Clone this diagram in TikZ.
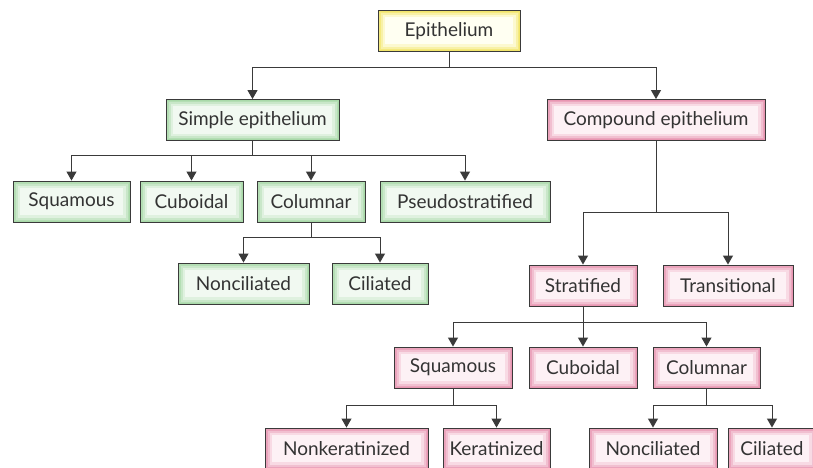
\documentclass[tikz,border=0pt]{standalone}
\usepackage{fontspec}
\setmainfont{Lato}
\usetikzlibrary{arrows.meta}
\definecolor{edge}{HTML}{3A3A3A}
\definecolor{yglow}{HTML}{F2E56A}
\definecolor{yfill}{HTML}{FFFFF2}
\definecolor{gglow}{HTML}{A9D9A9}
\definecolor{gfill}{HTML}{F1F9F1}
\definecolor{pglow}{HTML}{E896B2}
\definecolor{pfill}{HTML}{FDF1F5}
\tikzset{
  x=1pt, y=-1pt,
  box/.style 2 args={draw=edge, line width=0.9pt, fill=#2, minimum height=41pt, inner sep=0pt,
    font=\fontsize{19}{22}\selectfont, text=black!80,
    path picture={
      \draw[#1!25!#2, line width=14pt] (path picture bounding box.south west) rectangle (path picture bounding box.north east);
      \draw[#1!55!#2, line width=9pt] (path picture bounding box.south west) rectangle (path picture bounding box.north east);
      \draw[#1!85!#2, line width=5pt] (path picture bounding box.south west) rectangle (path picture bounding box.north east);
      \draw[#1, line width=2.5pt] (path picture bounding box.south west) rectangle (path picture bounding box.north east);
    }},
  ybox/.style={box={yglow}{yfill}},
  gbox/.style={box={gglow}{gfill}},
  pbox/.style={box={pglow}{pfill}},
  conn/.style={draw=edge, line width=1pt},
  arr/.style={conn, -{Triangle[width=10pt,length=9pt]}}
}
\begin{document}
\begin{tikzpicture}
\useasboundingbox (0,0) rectangle (813,468);
% nodes
\node[ybox, minimum width=142pt] (epi) at (449,31) {Epithelium};
\node[gbox, minimum width=173pt] (sim) at (252.5,120) {Simple epithelium};
\node[pbox, minimum width=218pt] (com) at (656,120) {Compound epithelium};
\node[gbox, minimum width=117pt] (sq1) at (71.5,201.5) {Squamous};
\node[gbox, minimum width=103pt] (cu1) at (191.5,201.5) {Cuboidal};
\node[gbox, minimum width=108pt] (co1) at (311,201.5) {Columnar};
\node[gbox, minimum width=170pt] (ps) at (465,201.5) {Pseudostratified};
\node[gbox, minimum width=131pt] (nc1) at (243.5,283.5) {Nonciliated};
\node[gbox, minimum width=96pt] (ci1) at (380,283.5) {Ciliated};
\node[pbox, minimum width=108pt] (st) at (583,285.5) {Stratified};
\node[pbox, minimum width=130pt] (tr) at (728,285.5) {Transitional};
\node[pbox, minimum width=118pt] (sq2) at (453,367.5) {Squamous};
\node[pbox, minimum width=108pt] (cu2) at (583,367.5) {Cuboidal};
\node[pbox, minimum width=107pt] (co2) at (706.5,367.5) {Columnar};
\node[pbox, minimum width=163pt] (nk) at (346.5,448.5) {Nonkeratinized};
\node[pbox, minimum width=107pt] (ke) at (496.5,448.5) {Keratinized};
\node[pbox, minimum width=128pt] (nc2) at (653,448.5) {Nonciliated};
\node[pbox, minimum width=88pt] (ci2) at (772,448.5) {Ciliated};
% junction coordinates
\coordinate (j1) at (449,68);
\coordinate (j2) at (252.5,155);
\coordinate (j3) at (311,237);
\coordinate (j4) at (656,212);
\coordinate (j5) at (583,322);
\coordinate (j6) at (453,405);
\coordinate (j7) at (706.5,405);
% connectors
\draw[conn] (epi.south) -- (j1);
\draw[arr] (j1) -| (sim.north);
\draw[arr] (j1) -| (com.north);
\draw[conn] (sim.south) -- (j2);
\draw[arr] (j2) -| (sq1.north);
\draw[arr] (j2) -| (cu1.north);
\draw[arr] (j2) -| (co1.north);
\draw[arr] (j2) -| (ps.north);
\draw[conn] (co1.south) -- (j3);
\draw[arr] (j3) -| (nc1.north);
\draw[arr] (j3) -| (ci1.north);
\draw[conn] (com.south) -- (j4);
\draw[arr] (j4) -| (st.north);
\draw[arr] (j4) -| (tr.north);
\draw[conn] (st.south) -- (j5);
\draw[arr] (j5) -| (sq2.north);
\draw[arr] (j5) -| (cu2.north);
\draw[arr] (j5) -| (co2.north);
\draw[conn] (sq2.south) -- (j6);
\draw[arr] (j6) -| (nk.north);
\draw[arr] (j6) -| (ke.north);
\draw[conn] (co2.south) -- (j7);
\draw[arr] (j7) -| (nc2.north);
\draw[arr] (j7) -| (ci2.north);
\end{tikzpicture}
\end{document}
